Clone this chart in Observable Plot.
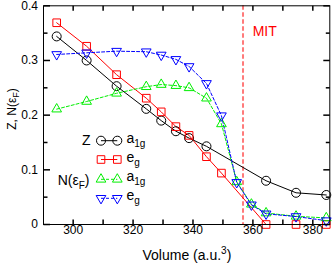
<!DOCTYPE html>
<html><head><meta charset="utf-8">
<script src="https://cdn.jsdelivr.net/npm/d3@7"></script>
<script src="https://cdn.jsdelivr.net/npm/@observablehq/plot@0.6"></script>
<style>body{margin:0;background:#fff}</style>
</head><body><div id="chart"></div>
<script>
// ---- data ----
const volZa1g = [294.5, 304.5, 314.5, 324.4, 329.4, 334.3, 338.7, 344.5, 364.4, 374.4, 384.5];
const zA1g    = [0.344, 0.300, 0.253, 0.2115, 0.190, 0.1706, 0.158, 0.143, 0.080, 0.058, 0.054];
const volZeg  = [294.5, 304.5, 314.5, 324.4, 329.4, 334.3, 338.7, 344.5, 349.5, 364.4, 374.4, 384.5];
const zEg     = [0.369, 0.326, 0.274, 0.231, 0.206, 0.179, 0.163, 0.124, 0.094, 0, 0, 0];
const volN    = [294.5, 304.5, 314.5, 324.4, 329.4, 334.3, 338.7, 344.5, 349.5, 354.6, 359.5, 364.4, 374.4, 384.5];
const nA1g    = [0.211, 0.225, 0.240, 0.252, 0.256, 0.254, 0.250, 0.231, 0.184, 0.078, 0.037, 0.021, 0.015, 0.012];
const nEg     = [0.311, 0.314, 0.317, 0.316, 0.310, 0.302, 0.289, 0.258, 0.199, 0.077, 0.036, 0.0195, 0.0146, 0.007];
const mitVolume = [356.7];
const xTickValues = [300, 310, 320, 330, 340, 350, 360, 370, 380];
const xLabelValues = [300, 320, 340, 360, 380];
const xLabelTexts = ["300", "320", "340", "360", "380"];
const yMajorValues = [0, 0.1, 0.2, 0.3, 0.4];
const yLabelTexts = ["0", "0.1", "0.2", "0.3", "0.4"];
const yMinorValues = [0.05, 0.15, 0.25, 0.35];

const FONT = "'Liberation Sans', Arial, Helvetica, sans-serif";
const RED = "#ff0000", GREEN = "#00ee00", BLUE = "#0000ff", BLACK = "#000000";
const S3 = Math.sqrt(3);
const nabla = {draw(c, size) { const y = Math.sqrt(size / (3 * S3)); c.moveTo(0, 2 * y); c.lineTo(S3 * y, -y); c.lineTo(-S3 * y, -y); c.closePath(); }};
const tk = (dx, dy) => ({draw(c) { c.moveTo(0, 0); c.lineTo(dx, dy); }});

const rows = (xs, ys) => xs.map((v, i) => ({v, y: ys[i]}));
const dZa = rows(volZa1g, zA1g), dZe = rows(volZeg, zEg), dNa = rows(volN, nA1g), dNe = rows(volN, nEg);

const R_CIRCLE = 4.5, R_SQUARE = 4.3, R_TRI = 3.6;
const svg = Plot.plot({
  width: 332, height: 266,
  marginLeft: 43, marginRight: 2.7, marginTop: 5.3, marginBottom: 42,
  style: {fontFamily: FONT, fontSize: "12px", background: "#fff", overflow: "visible"},
  x: {domain: [290.1, 385.67], axis: null},
  y: {domain: [0, 0.4], axis: null},
  marks: [
    Plot.ruleX(mitVolume, {x: d => d, stroke: "#ff7a7a", strokeWidth: 2, strokeDasharray: "4.5,2.5"}),
    Plot.line(dZa, {x: "v", y: "y", stroke: BLACK, strokeWidth: 1}),
    Plot.line(dZe, {x: "v", y: "y", stroke: RED, strokeWidth: 1}),
    Plot.line(dNa, {x: "v", y: "y", stroke: GREEN, strokeWidth: 1, strokeDasharray: "3,2"}),
    Plot.line(dNe, {x: "v", y: "y", stroke: BLUE, strokeWidth: 1, strokeDasharray: "3,2"}),
    Plot.dot(dZa, {x: "v", y: "y", symbol: "circle", r: R_CIRCLE, stroke: BLACK, fill: "none", strokeWidth: 1}),
    Plot.dot(dZe, {x: "v", y: "y", symbol: "square", r: R_SQUARE, stroke: RED, fill: "none", strokeWidth: 1}),
    Plot.dot(dNa, {x: "v", y: "y", symbol: "triangle", r: R_TRI, stroke: GREEN, fill: "none", strokeWidth: 1}),
    Plot.dot(dNe, {x: "v", y: "y", symbol: nabla, r: R_TRI, stroke: BLUE, fill: "none", strokeWidth: 1}),
    Plot.frame({stroke: BLACK, strokeWidth: 1}),
    Plot.dot(xTickValues, {x: d => d, frameAnchor: "bottom", symbol: tk(0, -5), stroke: BLACK, fill: "none"}),
    Plot.dot(xTickValues, {x: d => d, frameAnchor: "top", symbol: tk(0, 5), stroke: BLACK, fill: "none"}),
    Plot.dot(yMajorValues, {y: d => d, frameAnchor: "left", symbol: tk(6.5, 0), stroke: BLACK, fill: "none"}),
    Plot.dot(yMajorValues, {y: d => d, frameAnchor: "right", symbol: tk(-6.5, 0), stroke: BLACK, fill: "none"}),
    Plot.dot(yMinorValues, {y: d => d, frameAnchor: "left", symbol: tk(4, 0), stroke: BLACK, fill: "none"}),
    Plot.dot(yMinorValues, {y: d => d, frameAnchor: "right", symbol: tk(-4, 0), stroke: BLACK, fill: "none"}),
    Plot.text(xLabelValues, {x: d => d, frameAnchor: "bottom", dy: 9.5, text: (d, i) => xLabelTexts[i], fontSize: 12, fill: BLACK}),
    Plot.text(yMajorValues, {y: d => d, frameAnchor: "left", dx: -5.5, textAnchor: "end", text: (d, i) => yLabelTexts[i], fontSize: 12, fill: BLACK})
  ]
});
document.getElementById("chart").append(svg);

// ---- labels and legend ----
const g = d3.select(svg).append("g").attr("font-family", FONT).attr("fill", BLACK).attr("text-anchor", "start");
// x label
const xl = g.append("text").attr("x", 186.9).attr("y", 260).attr("text-anchor", "middle").attr("font-size", 14);
xl.append("tspan").text("Volume (a.u.");
xl.append("tspan").attr("font-size", 10).attr("dy", -6).text("3");
xl.append("tspan").attr("font-size", 14).attr("dy", 6).text(")");
// y label
const yl = g.append("text").attr("transform", "translate(16,109) rotate(-90)").attr("text-anchor", "middle").attr("font-size", 12);
yl.append("tspan").text("Z, N(ε");
yl.append("tspan").attr("font-size", 9).attr("dy", 3).text("F");
yl.append("tspan").attr("font-size", 12).attr("dy", -3).text(")");
// MIT
g.append("text").attr("x", 252.7).attr("y", 35.7).attr("text-anchor", "start").attr("font-size", 14).attr("fill", RED).text("MIT");

// legend
const legendRows = [
  {y: 140.7, color: BLACK, sym: d3.symbolCircle, r: R_CIRCLE, dash: null, label: ["a", "1g"]},
  {y: 159.5, color: RED, sym: d3.symbolSquare, r: R_SQUARE, dash: null, label: ["e", "g"]},
  {y: 179.3, color: GREEN, sym: d3.symbolTriangle, r: R_TRI, dash: "3,2", label: ["a", "1g"]},
  {y: 198.3, color: BLUE, sym: nabla, r: R_TRI, dash: "3,2", label: ["e", "g"]}
];
const x0 = 101, x1 = 117.3;
for (const r of legendRows) {
  g.append("line").attr("x1", x0).attr("x2", x1).attr("y1", r.y).attr("y2", r.y)
    .attr("stroke", r.color).attr("stroke-width", 1).attr("stroke-dasharray", r.dash);
  for (const x of [x0, x1]) {
    g.append("path").attr("transform", `translate(${x},${r.y})`)
      .attr("d", d3.symbol(r.sym, Math.PI * r.r * r.r)())
      .attr("fill", "none").attr("stroke", r.color).attr("stroke-width", 1);
  }
  const t = g.append("text").attr("x", 126.5).attr("y", r.y + 2).attr("text-anchor", "start").attr("font-size", 14);
  t.append("tspan").text(r.label[0]);
  t.append("tspan").attr("font-size", 10).attr("dy", 4).text(r.label[1]);
}
g.append("text").attr("x", 90.5).attr("y", 144.7).attr("text-anchor", "end").attr("font-size", 14).text("Z");
const nl = g.append("text").attr("x", 89.5).attr("y", 184.5).attr("text-anchor", "end").attr("font-size", 14);
nl.append("tspan").text("N(ε");
nl.append("tspan").attr("font-size", 10).attr("dy", 4).text("F");
nl.append("tspan").attr("font-size", 14).attr("dy", -4).text(")");
</script>
</body></html>
